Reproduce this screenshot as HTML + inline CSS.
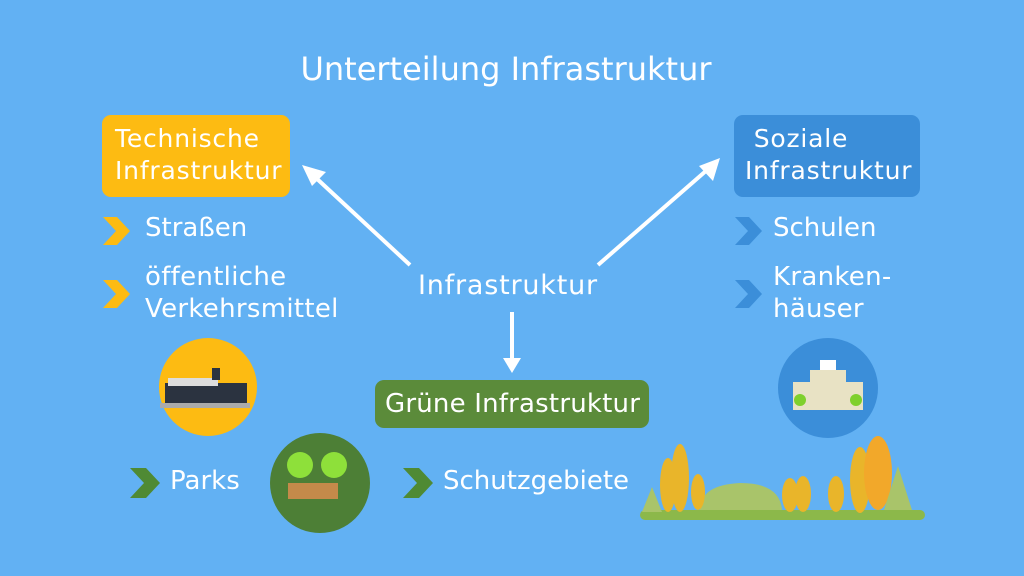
<!DOCTYPE html>
<html><head><meta charset="utf-8"><style>
body{margin:0;width:1024px;height:576px;background:#62b1f3;overflow:hidden;font-family:"DejaVu Sans","Liberation Sans",sans-serif;position:relative;color:#fff}
.t{position:absolute;white-space:nowrap;color:#fff}
.box{position:absolute;border-radius:9px;color:#fff;font-size:25px;line-height:32px;box-sizing:border-box;white-space:nowrap}
</style></head><body>
<div class="t" style="left:0;width:1012px;text-align:center;top:50px;font-size:32px">Unterteilung Infrastruktur</div>
<div class="box" style="left:102px;top:115px;width:188px;height:82px;background:#fdbb12;padding:8px 0 0 13px;letter-spacing:0.8px">Technische<br>Infrastruktur</div>
<div class="box" style="left:734px;top:115px;width:186px;height:82px;background:#3b8ed9;padding:8px 0 0 11px;letter-spacing:0.8px">&nbsp;Soziale<br>Infrastruktur</div>
<div class="box" style="left:375px;top:380px;width:274px;height:48px;background:#5b8b3a;padding:8px 0 0 10px;font-size:26px;letter-spacing:0.2px">Grüne Infrastruktur</div>
<div class="t" style="left:145px;top:213px;font-size:26px">Straßen</div>
<div class="t" style="left:145px;top:261px;font-size:26px;line-height:32px;letter-spacing:0.3px">öffentliche<br>Verkehrsmittel</div>
<div class="t" style="left:773px;top:213px;font-size:26px">Schulen</div>
<div class="t" style="left:773px;top:261px;font-size:26px;line-height:32px;letter-spacing:0.3px">Kranken-<br>häuser</div>
<div class="t" style="left:418px;top:270px;font-size:27px;letter-spacing:0.8px">Infrastruktur</div>
<div class="t" style="left:170px;top:466px;font-size:26px">Parks</div>
<div class="t" style="left:443px;top:466px;font-size:26px">Schutzgebiete</div>
<svg width="1024" height="576" style="position:absolute;left:0;top:0">
<g stroke="#fff" stroke-width="4" fill="#fff">
<line x1="410" y1="265" x2="315" y2="177"/><polygon points="302,165 326,172 312,186" stroke="none"/>
<line x1="598" y1="265" x2="707" y2="170"/><polygon points="720,158 713,181 699,166" stroke="none"/>
<line x1="512" y1="312" x2="512" y2="360"/><polygon points="503,358 521,358 512,373" stroke="none"/>
</g>
<g fill="#fdbb12"><polygon points="103,217 117,217 130,231 117,245 103,245 116,231"/><polygon points="103,280 117,280 130,294 117,308 103,308 116,294"/></g>
<g fill="#3b8ed9"><polygon points="735,217 749,217 762,231 749,245 735,245 748,231"/><polygon points="735,280 749,280 762,294 749,308 735,308 748,294"/></g>
<g fill="#4f8a34"><polygon points="130,468 146,468 160,483 146,498 130,498 144,483"/><polygon points="403,468 419,468 433,483 419,498 403,498 417,483"/></g>
<circle cx="208" cy="387" r="49" fill="#fdbb12"/>
<rect x="165" y="383" width="82" height="22" fill="#2b3340"/><rect x="168" y="378" width="50" height="8" fill="#ddd"/>
<rect x="160" y="403" width="90" height="5" fill="#aaa"/><rect x="212" y="368" width="8" height="12" fill="#2b3340"/>
<circle cx="320" cy="483" r="50" fill="#4d7f36"/>
<circle cx="300" cy="465" r="13" fill="#8ee03a"/><circle cx="334" cy="465" r="13" fill="#8ee03a"/>
<rect x="288" y="483" width="50" height="16" fill="#c48a4a"/>
<circle cx="828" cy="388" r="50" fill="#3b8ed9"/>
<rect x="810" y="370" width="36" height="40" fill="#e8e2c4"/><rect x="793" y="382" width="70" height="28" fill="#e8e2c4"/><rect x="820" y="360" width="16" height="10" fill="#fff"/>
<circle cx="800" cy="400" r="6" fill="#7fd02c"/><circle cx="856" cy="400" r="6" fill="#7fd02c"/>
<path d="M700 510 Q700 485 740 483 Q780 483 782 510Z" fill="#a9c46a"/>
<rect x="640" y="510" width="285" height="10" rx="5" fill="#8cb84a"/>
<g fill="#e9b52a"><ellipse cx="668" cy="485" rx="8" ry="27"/><ellipse cx="680" cy="478" rx="9" ry="34"/><ellipse cx="698" cy="492" rx="7" ry="18"/><ellipse cx="790" cy="495" rx="8" ry="17"/><ellipse cx="803" cy="494" rx="8" ry="18"/><ellipse cx="836" cy="494" rx="8" ry="18"/><ellipse cx="860" cy="480" rx="10" ry="33"/><ellipse cx="878" cy="473" rx="14" ry="37" fill="#f2a82a"/></g>
<polygon points="898,466 912,510 884,510" fill="#a9c46a"/><polygon points="652,487 662,512 642,512" fill="#a9c46a"/>
</svg>
</body></html>
